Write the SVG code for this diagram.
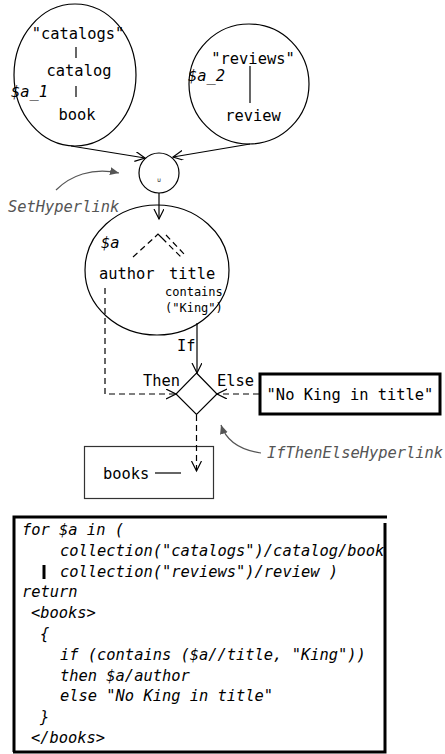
<svg xmlns="http://www.w3.org/2000/svg" width="445" height="754" viewBox="0 0 445 754">
  <style>
    .t { font-family: "DejaVu Sans Mono", "Liberation Mono", monospace; font-size: 15.4px; fill: #000; }
    .it { font-style: italic; }
    .sm { font-size: 12px; }
    .hl { font-family: "DejaVu Sans Mono", "Liberation Mono", monospace; font-size: 15.4px; font-style: italic; fill: #555; }
    .shape { fill: #fff; stroke: #000; stroke-width: 1.2; }
    .line { fill: none; stroke: #000; stroke-width: 1.2; }
    .dash { fill: none; stroke: #000; stroke-width: 1.2; stroke-dasharray: 6 4; }
    .hlink { fill: none; stroke: #555; stroke-width: 1.2; }
  </style>
  <defs>
    <marker id="open" markerUnits="userSpaceOnUse" markerWidth="12" markerHeight="12" refX="10" refY="5" orient="auto">
      <path d="M0,0 L10,5 L0,10" fill="none" stroke="#000" stroke-width="1.2"/>
    </marker>
    <marker id="solidgray" markerUnits="userSpaceOnUse" markerWidth="12" markerHeight="12" refX="9" refY="4" orient="auto">
      <path d="M0,0 L9,4 L0,8 Z" fill="#555"/>
    </marker>
  </defs>

  <rect width="445" height="754" fill="#fff"/>

  <!-- nodes -->
  <g id="catalogs">
    <ellipse class="shape" cx="75" cy="75" rx="61" ry="71"/>
    <text class="t" x="78" y="39" text-anchor="middle">"catalogs"</text>
    <line class="line" x1="76" y1="47" x2="76" y2="58"/>
    <text class="t" x="79" y="76" text-anchor="middle">catalog</text>
    <text class="t it" x="11" y="97">$a_1</text>
    <line class="line" x1="76" y1="86" x2="76" y2="97"/>
    <text class="t" x="77" y="120" text-anchor="middle">book</text>
  </g>

  <g id="reviews">
    <ellipse class="shape" cx="249" cy="84" rx="60" ry="60"/>
    <text class="t" x="253" y="64" text-anchor="middle">"reviews"</text>
    <text class="t it" x="188" y="81">$a_2</text>
    <line class="line" x1="250" y1="66" x2="250" y2="103"/>
    <text class="t" x="253" y="121" text-anchor="middle">review</text>
  </g>

  <g id="union">
    <circle class="shape" cx="159" cy="173" r="20"/>
    <text class="t" x="159" y="182" text-anchor="middle" style="font-size:6px">∪</text>
  </g>

  <g id="book-a">
    <ellipse class="shape" cx="157" cy="270" rx="72" ry="65"/>
    <text class="t it" x="101" y="248">$a</text>
    <line class="dash" x1="133" y1="257" x2="155" y2="237" stroke-dasharray="5 4"/>
    <path class="line" d="M155,237 L158,234 L162,238"/>
    <line class="dash" x1="162" y1="238" x2="181" y2="257" stroke-dasharray="5 4"/>
    <line class="dash" x1="166" y1="235" x2="186" y2="256" stroke-dasharray="5 4"/>
    <text class="t" x="99" y="279">author</text>
    <text class="t" x="169" y="279">title</text>
    <text class="t sm" x="165" y="296">contains</text>
    <text class="t sm" x="165" y="312">("King")</text>
  </g>

  <g id="if-then-else">
    <path class="shape" d="M196.5,373 L217,394 L196.5,414.5 L176,394 Z"/>
    <text class="t" x="177" y="351">If</text>
    <text class="t" x="143" y="386">Then</text>
    <text class="t" x="217" y="386">Else</text>
  </g>

  <g id="no-king">
    <rect x="260" y="374" width="180" height="40" fill="#fff" stroke="#000" stroke-width="3"/>
    <text class="t" x="350" y="400" text-anchor="middle">"No King in title"</text>
  </g>

  <g id="books">
    <rect x="84.5" y="446.5" width="129" height="52" fill="#fff" stroke="#333" stroke-width="1.2"/>
    <text class="t" x="103" y="479">books</text>
    <line class="line" x1="155" y1="473" x2="181" y2="473"/>
  </g>

  <!-- connectors -->
  <g id="connectors">
    <line class="line" x1="71" y1="146" x2="145" y2="158" marker-end="url(#open)"/>
    <line class="line" x1="250" y1="144" x2="173" y2="157" marker-end="url(#open)"/>
    <line class="line" x1="159" y1="193" x2="159" y2="219" marker-end="url(#open)"/>
    <line class="line" x1="197" y1="323" x2="197" y2="373" marker-end="url(#open)"/>
    <path class="dash" d="M105,288 L105,394 L176,394" marker-end="url(#open)"/>
    <line class="dash" x1="259" y1="394" x2="217" y2="394" marker-end="url(#open)"/>
    <line class="dash" x1="196.5" y1="415" x2="196.5" y2="471" marker-end="url(#open)"/>
    <path class="hlink" d="M56,190 C70,176 92,167 119,173" marker-end="url(#solidgray)"/>
    <path class="hlink" d="M261,453 C240,450 226,440 221,425" marker-end="url(#solidgray)"/>
  </g>

  <g id="hyperlink-labels">
    <text class="hl" x="8" y="212">SetHyperlink</text>
    <text class="hl" x="267" y="458">IfThenElseHyperlink</text>
  </g>

  <!-- query listing -->
  <g id="query">
    <rect x="14" y="517" width="371" height="234" fill="#fff"/>
    <path d="M14,752 L14,517 L387,517" fill="none" stroke="#000" stroke-width="3"/>
    <path d="M385,523 L385,752 L13,752" fill="none" stroke="#000" stroke-width="3"/>
    <g class="t it">
      <text x="22" y="535">for $a in (</text>
      <text x="60" y="556">collection("catalogs")/catalog/book</text>
      <text x="60" y="577">collection("reviews")/review )</text>
      <text x="22" y="597">return</text>
      <text x="31" y="618"> &lt;books&gt;</text>
      <text x="40" y="639">{</text>
      <text x="60" y="660">if (contains ($a//title, "King"))</text>
      <text x="60" y="681">then $a/author</text>
      <text x="60" y="701">else "No King in title"</text>
      <text x="40" y="722">}</text>
      <text x="31" y="743"> &lt;/books&gt;</text>
    </g>
    <line x1="44" y1="565" x2="44" y2="579" stroke="#000" stroke-width="3"/>
  </g>
</svg>
